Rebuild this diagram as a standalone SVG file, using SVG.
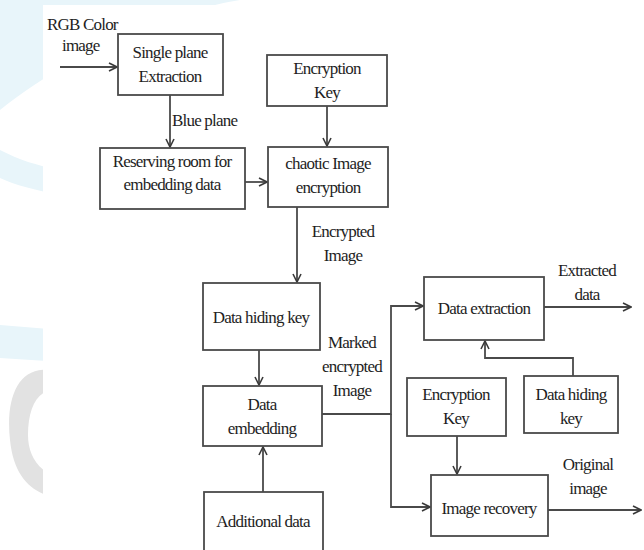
<svg xmlns="http://www.w3.org/2000/svg" width="644" height="550" viewBox="0 0 644 550">
<defs>
<style>
.box{fill:#fff;stroke:#4a4a4a;stroke-width:1.8}
.t{font-family:'Liberation Serif','Times New Roman',serif;font-size:17px;fill:#1e1e1e;text-anchor:middle;letter-spacing:-0.8px}
.ts{text-anchor:start}
.c{fill:none;stroke:#4a4a4a;stroke-width:1.8}
</style>
<marker id="ah" viewBox="0 0 10 10" refX="9" refY="5" markerWidth="10" markerHeight="10" markerUnits="userSpaceOnUse" orient="auto">
<path d="M1,1 L9,5 L1,9" fill="none" stroke="#3a3a3a" stroke-width="1.6"/>
</marker>
<clipPath id="strip"><path d="M0,0 H644 V5 H43 V550 H0 Z"/></clipPath>
</defs>
<rect width="644" height="550" fill="#fff"/>
<g id="watermark" clip-path="url(#strip)">
<path d="M0,0 H240 C180,10 90,40 0,110 Z" fill="#e8f5fa"/>
<path d="M0,150 C20,160 35,165 60,170 L60,195 C35,190 15,185 0,178 Z" fill="#e8f5fa"/>
<path d="M0,325 L60,330 L60,362 L0,358 Z" fill="#e8f5fa"/>
<path d="M60,372 C20,360 5,395 10,440 C14,480 35,495 60,498 L60,478 C38,472 28,455 28,435 C28,405 40,385 60,392 Z" fill="#e2e2e2"/>
</g>
<g id="connectors">
<path class="c" d="M60,67 H117" marker-end="url(#ah)"/>
<path class="c" d="M170,95 V147" marker-end="url(#ah)"/>
<path class="c" d="M245,182 H267" marker-end="url(#ah)"/>
<path class="c" d="M327,106 V146" marker-end="url(#ah)"/>
<path class="c" d="M297,207 V282" marker-end="url(#ah)"/>
<path class="c" d="M259,350 V385" marker-end="url(#ah)"/>
<path class="c" d="M263,492 V447" marker-end="url(#ah)"/>
<path class="c" d="M322,414 H391 V306 H423" marker-end="url(#ah)"/>
<path class="c" d="M391,414 V507 H430" marker-end="url(#ah)"/>
<path class="c" d="M544,307 H631" marker-end="url(#ah)"/>
<path class="c" d="M573,376 V358 H485 V341" marker-end="url(#ah)"/>
<path class="c" d="M457,436 V474" marker-end="url(#ah)"/>
<path class="c" d="M548,510 H641" marker-end="url(#ah)"/>
<text class="t ts" x="47" y="30">RGB Color</text>
<text class="t ts" x="62" y="51">image</text>
<text class="t ts" x="172" y="126">Blue plane</text>
<text class="t" x="343" y="237">Encrypted</text>
<text class="t" x="343" y="261">Image</text>
<text class="t" x="352" y="348">Marked</text>
<text class="t" x="352" y="372">encrypted</text>
<text class="t" x="352" y="396">Image</text>
<text class="t" x="587" y="276">Extracted</text>
<text class="t" x="587" y="300">data</text>
<text class="t" x="588" y="470">Original</text>
<text class="t" x="588" y="494">image</text>
</g>
<g id="single-plane">
<rect class="box" x="118" y="34" width="105" height="61"/>
<text class="t" x="170" y="58">Single plane</text>
<text class="t" x="170" y="82">Extraction</text>
</g>
<g id="reserving">
<rect class="box" x="100" y="148" width="145" height="61"/>
<text class="t" x="172" y="167">Reserving room for</text>
<text class="t" x="172" y="190">embedding data</text>
</g>
<g id="enc-key-1">
<rect class="box" x="267" y="55" width="120" height="51"/>
<text class="t" x="327" y="74">Encryption</text>
<text class="t" x="327" y="98">Key</text>
</g>
<g id="chaotic">
<rect class="box" x="268" y="147" width="120" height="60"/>
<text class="t" x="328" y="169">chaotic Image</text>
<text class="t" x="328" y="193">encryption</text>
</g>
<g id="dh-key-1">
<rect class="box" x="203" y="283" width="117" height="67"/>
<text class="t" x="261" y="323">Data hiding key</text>
</g>
<g id="embedding">
<rect class="box" x="203" y="386" width="119" height="60"/>
<text class="t" x="262" y="410">Data</text>
<text class="t" x="262" y="434">embedding</text>
</g>
<g id="additional">
<rect class="box" x="204" y="492" width="119" height="70"/>
<text class="t" x="263" y="527">Additional data</text>
</g>
<g id="extraction">
<rect class="box" x="424" y="277" width="120" height="63"/>
<text class="t" x="484" y="314">Data extraction</text>
</g>
<g id="enc-key-2">
<rect class="box" x="407" y="378" width="99" height="58"/>
<text class="t" x="456" y="400">Encryption</text>
<text class="t" x="456" y="424">Key</text>
</g>
<g id="dh-key-2">
<rect class="box" x="524" y="376" width="94" height="57"/>
<text class="t" x="571" y="400">Data hiding</text>
<text class="t" x="571" y="424">key</text>
</g>
<g id="recovery">
<rect class="box" x="431" y="475" width="117" height="61"/>
<text class="t" x="489" y="514">Image recovery</text>
</g>
</svg>
